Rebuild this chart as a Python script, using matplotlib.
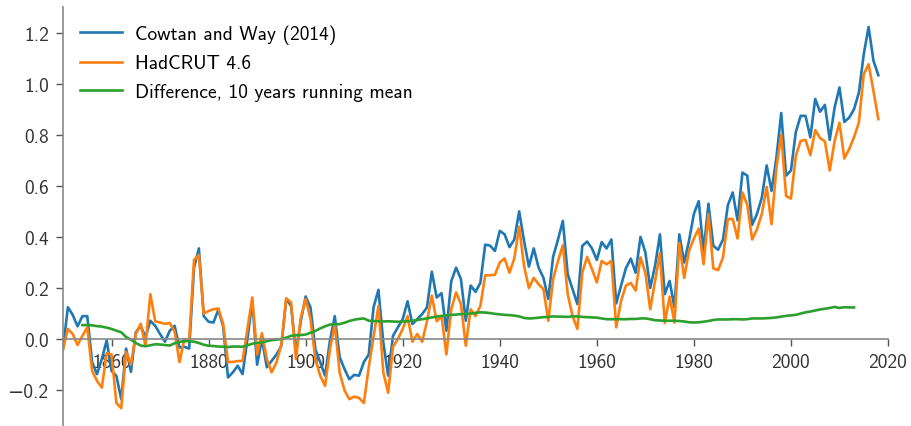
import numpy as np
import matplotlib
matplotlib.use("Agg")
import matplotlib.pyplot as plt

plt.rcParams['font.family'] = ['cmss10', 'DejaVu Sans']
plt.rcParams['axes.formatter.use_mathtext'] = False

years = np.arange(1850, 2019)

# Cowtan and Way (2014), annual anomaly
cw = [-0.04, 0.125, 0.095, 0.05, 0.09, 0.09, -0.09, -0.137, -0.078, -0.005,
      -0.124, -0.144, -0.235, -0.037, -0.128, 0.026, 0.052, 0.007, 0.072, 0.052,
      0.02, -0.01, 0.033, 0.052, -0.033, -0.03, -0.037, 0.28, 0.355, 0.09,
      0.068, 0.065, 0.115, 0.05, -0.15, -0.13, -0.104, -0.137, 0.0, 0.15,
      -0.1, 0.0, -0.11, -0.085, -0.06, -0.026, 0.157, 0.13, -0.052, 0.07,
      0.167, 0.124, -0.04, -0.09, -0.143, -0.007, 0.09, -0.07, -0.117, -0.157,
      -0.14, -0.143, -0.09, -0.06, 0.125, 0.193, -0.013, -0.143, 0.013, 0.046,
      0.078, 0.148, 0.059, 0.078, 0.098, 0.124, 0.264, 0.163, 0.18, 0.033,
      0.226, 0.28, 0.235, 0.072, 0.21, 0.185, 0.22, 0.37, 0.366, 0.345,
      0.424, 0.41, 0.36, 0.39, 0.50, 0.385, 0.284, 0.355, 0.28, 0.24,
      0.157, 0.323, 0.39, 0.463, 0.254, 0.196, 0.137, 0.365, 0.382, 0.355,
      0.31, 0.38, 0.355, 0.39, 0.14, 0.21, 0.278, 0.315, 0.26, 0.40,
      0.34, 0.20, 0.287, 0.41, 0.176, 0.228, 0.124, 0.41, 0.30, 0.385,
      0.49, 0.54, 0.345, 0.53, 0.365, 0.35, 0.39, 0.524, 0.574, 0.465,
      0.652, 0.64, 0.447, 0.49, 0.554, 0.68, 0.58, 0.71, 0.885, 0.64,
      0.66, 0.81, 0.874, 0.874, 0.79, 0.94, 0.89, 0.917, 0.78, 0.907,
      0.985, 0.85, 0.867, 0.90, 0.965, 1.115, 1.222, 1.09, 1.033]

# HadCRUT 4.6, annual anomaly
hadcrut = [-0.04, 0.04, 0.02, -0.023, 0.013, 0.046, -0.124, -0.163, -0.19, -0.055,
           -0.06, -0.25, -0.27, -0.05, -0.1, 0.02, 0.06, -0.026, 0.176, 0.07,
           0.065, 0.06, 0.063, 0.03, -0.09, 0.0, -0.005, 0.31, 0.33, 0.10,
           0.11, 0.117, 0.12, 0.06, -0.09, -0.089, -0.086, -0.085, 0.04, 0.163,
           -0.06, 0.023, -0.078, -0.13, -0.09, -0.02, 0.16, 0.143, -0.078, 0.085,
           0.157, 0.078, -0.078, -0.143, -0.183, -0.04, 0.059, -0.13, -0.2, -0.235,
           -0.225, -0.23, -0.25, -0.11, 0.01, 0.13, -0.13, -0.21, -0.03, 0.0,
           0.04, 0.09, -0.01, 0.02, -0.01, 0.07, 0.17, 0.07, 0.09, -0.06,
           0.117, 0.183, 0.137, -0.026, 0.117, 0.09, 0.13, 0.25, 0.25, 0.252,
           0.30, 0.316, 0.26, 0.316, 0.44, 0.287, 0.20, 0.24, 0.215, 0.196,
           0.072, 0.235, 0.306, 0.368, 0.176, 0.09, 0.04, 0.26, 0.322, 0.274,
           0.222, 0.306, 0.293, 0.306, 0.046, 0.15, 0.21, 0.22, 0.19, 0.32,
           0.26, 0.117, 0.228, 0.336, 0.063, 0.166, 0.065, 0.376, 0.24, 0.345,
           0.394, 0.433, 0.293, 0.49, 0.277, 0.27, 0.32, 0.47, 0.47, 0.394,
           0.574, 0.526, 0.39, 0.43, 0.49, 0.596, 0.45, 0.67, 0.80, 0.56,
           0.55, 0.717, 0.776, 0.78, 0.72, 0.818, 0.787, 0.774, 0.66, 0.776,
           0.847, 0.707, 0.744, 0.79, 0.848, 1.037, 1.076, 0.972, 0.861]

# difference, 10 years running mean
diff_years = np.arange(1854, 2014)
diff_mean = [0.055, 0.055, 0.054, 0.051, 0.049, 0.045, 0.040, 0.033, 0.027, 0.008,
             -0.002, -0.015, -0.025, -0.028, -0.024, -0.020, -0.021, -0.023, -0.025, -0.016,
             -0.011, -0.008, -0.008, -0.010, -0.015, -0.022, -0.026, -0.027, -0.029, -0.030,
             -0.031, -0.029, -0.029, -0.030, -0.024, -0.018, -0.015, -0.013, -0.008, -0.004,
             -0.002, 0.000, 0.006, 0.013, 0.015, 0.016, 0.018, 0.025, 0.032, 0.042,
             0.050, 0.057, 0.058, 0.059, 0.064, 0.071, 0.076, 0.079, 0.081, 0.072,
             0.071, 0.070, 0.069, 0.070, 0.069, 0.068, 0.069, 0.070, 0.072, 0.075,
             0.078, 0.081, 0.085, 0.088, 0.091, 0.093, 0.095, 0.096, 0.098, 0.099,
             0.100, 0.103, 0.105, 0.104, 0.102, 0.099, 0.097, 0.095, 0.094, 0.092,
             0.089, 0.083, 0.081, 0.082, 0.084, 0.086, 0.087, 0.089, 0.088, 0.088,
             0.087, 0.089, 0.089, 0.087, 0.086, 0.085, 0.084, 0.081, 0.078, 0.078,
             0.078, 0.078, 0.078, 0.079, 0.079, 0.081, 0.081, 0.078, 0.074, 0.073,
             0.072, 0.072, 0.072, 0.071, 0.069, 0.066, 0.065, 0.066, 0.068, 0.071,
             0.075, 0.077, 0.077, 0.077, 0.078, 0.078, 0.077, 0.078, 0.081, 0.081,
             0.081, 0.082, 0.083, 0.085, 0.088, 0.091, 0.093, 0.095, 0.100, 0.105,
             0.108, 0.112, 0.116, 0.119, 0.122, 0.126, 0.122, 0.125, 0.124, 0.124]

fig = plt.figure(figsize=(9.12, 4.27), dpi=100)
ax = fig.add_axes([63 / 912, 0.0, 825 / 912, 419 / 427])

ax.plot(years, cw, color='#1f77b4', lw=1.9, label='Cowtan and Way (2014)')
ax.plot(years, hadcrut, color='#ff7f0e', lw=1.9, label='HadCRUT 4.6')
ax.plot(diff_years, diff_mean, color='#2ca02c', lw=1.9, label='Difference, 10 years running mean')

ax.set_xlim(1850, 2020)
ax.set_ylim(-0.34, 1.30)
ax.set_xticks(np.arange(1860, 2021, 20))
ax.set_yticks([-0.2, 0.0, 0.2, 0.4, 0.6, 0.8, 1.0, 1.2])
ax.set_yticklabels(['\u22120.2', '0.0', '0.2', '0.4', '0.6', '0.8', '1.0', '1.2'])

for side in ['top', 'right']:
    ax.spines[side].set_visible(False)
ax.spines['bottom'].set_position(('data', 0))
for side in ['left', 'bottom']:
    ax.spines[side].set_color('#888888')
    ax.spines[side].set_linewidth(1.2)
ax.tick_params(colors='#333333', labelsize=14, length=5, width=1, pad=5)
ax.tick_params(axis='both', color='#555555')

ax.legend(loc='upper left', frameon=False, fontsize=14, handlelength=2.15,
          handletextpad=0.68, labelspacing=0.55, borderaxespad=0.48)

fig.savefig('out.png', dpi=100)
